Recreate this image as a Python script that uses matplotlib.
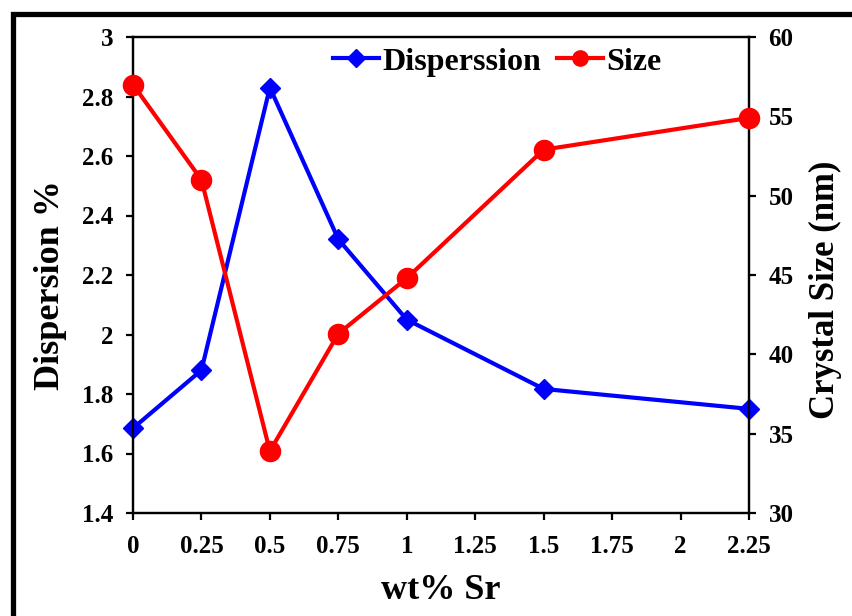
import matplotlib
matplotlib.use("Agg")
import matplotlib.pyplot as plt
from matplotlib.patches import Rectangle

wt_sr = [0, 0.25, 0.5, 0.75, 1.0, 1.5, 2.25]
dispersion = [1.685, 1.88, 2.83, 2.32, 2.05, 1.817, 1.75]
crystal_size = [57.0, 51.0, 33.9, 41.3, 44.8, 52.9, 54.9]
x_ticks = [0, 0.25, 0.5, 0.75, 1, 1.25, 1.5, 1.75, 2, 2.25]
x_tick_labels = ["0", "0.25", "0.5", "0.75", "1", "1.25", "1.5", "1.75", "2", "2.25"]
left_ticks = [1.4, 1.6, 1.8, 2.0, 2.2, 2.4, 2.6, 2.8, 3.0]
left_tick_labels = ["1.4", "1.6", "1.8", "2", "2.2", "2.4", "2.6", "2.8", "3"]
right_ticks = [30, 35, 40, 45, 50, 55, 60]

plt.rcParams['font.family'] = ['Liberation Serif', 'DejaVu Serif']
plt.rcParams['font.weight'] = 'bold'

fig = plt.figure(figsize=(8.52, 6.16), dpi=100)
fig.patch.set_facecolor('white')

# outer frame (partially outside the canvas)
fig.patches.append(Rectangle((13 / 852, -0.2), 1.5, 1.2 - 14 / 616,
                             transform=fig.transFigure, fill=False,
                             edgecolor='black', linewidth=3.8, zorder=0))

ax = fig.add_axes([133 / 852, 1 - 513 / 616, (749 - 133) / 852, (513 - 37) / 616])
ax2 = ax.twinx()

l1, = ax.plot(wt_sr, dispersion, color='#0000FF', lw=3, marker='D',
              markersize=10, label='Disperssion', clip_on=False, zorder=3)
l2, = ax2.plot(wt_sr, crystal_size, color='#FF0000', lw=3, marker='o',
               markersize=14.5, label='Size', clip_on=False, zorder=3)

ax.set_xlim(0, 2.25)
ax.set_ylim(1.4, 3.0)
ax2.set_ylim(30, 60)
ax.set_xticks(x_ticks)
ax.set_xticklabels(x_tick_labels)
ax.set_yticks(left_ticks)
ax.set_yticklabels(left_tick_labels)
ax2.set_yticks(right_ticks)

for a in (ax, ax2):
    for s in a.spines.values():
        s.set_linewidth(1.6)
        s.set_color('black')
    a.tick_params(direction='out', length=5, width=1.6, labelsize=18, pad=9)
    for lab in a.get_xticklabels() + a.get_yticklabels():
        lab.set_fontweight('bold')
ax.tick_params(axis='x', pad=11)

ax.set_xlabel('wt% Sr', fontsize=26, fontweight='bold')
ax.set_ylabel('Dispersion %', fontsize=26, fontweight='bold')
ax2.set_ylabel('Crystal Size (nm)', fontsize=25, fontweight='bold')
ax.xaxis.set_label_coords((441 - 133) / 616, (513 - 574) / 476)
ax.yaxis.set_label_coords((67 - 133) / 616, (513 - 285) / 476)
ax2.yaxis.set_label_coords((809 - 133) / 616, (513 - 290) / 476)

leg = ax.legend(handles=[l1, l2], loc='center', bbox_to_anchor=((497 - 133) / 616, (513 - 62) / 476),
                ncol=2, frameon=False, fontsize=23, handlelength=1.45,
                handletextpad=0.1, columnspacing=0.5, borderaxespad=0)
for t in leg.get_texts():
    t.set_fontweight('bold')
for h in leg.legend_handles:
    h.set_markersize(9 if h.get_marker() == 'D' else 11)

fig.savefig('out.png', dpi=100, facecolor='white')
